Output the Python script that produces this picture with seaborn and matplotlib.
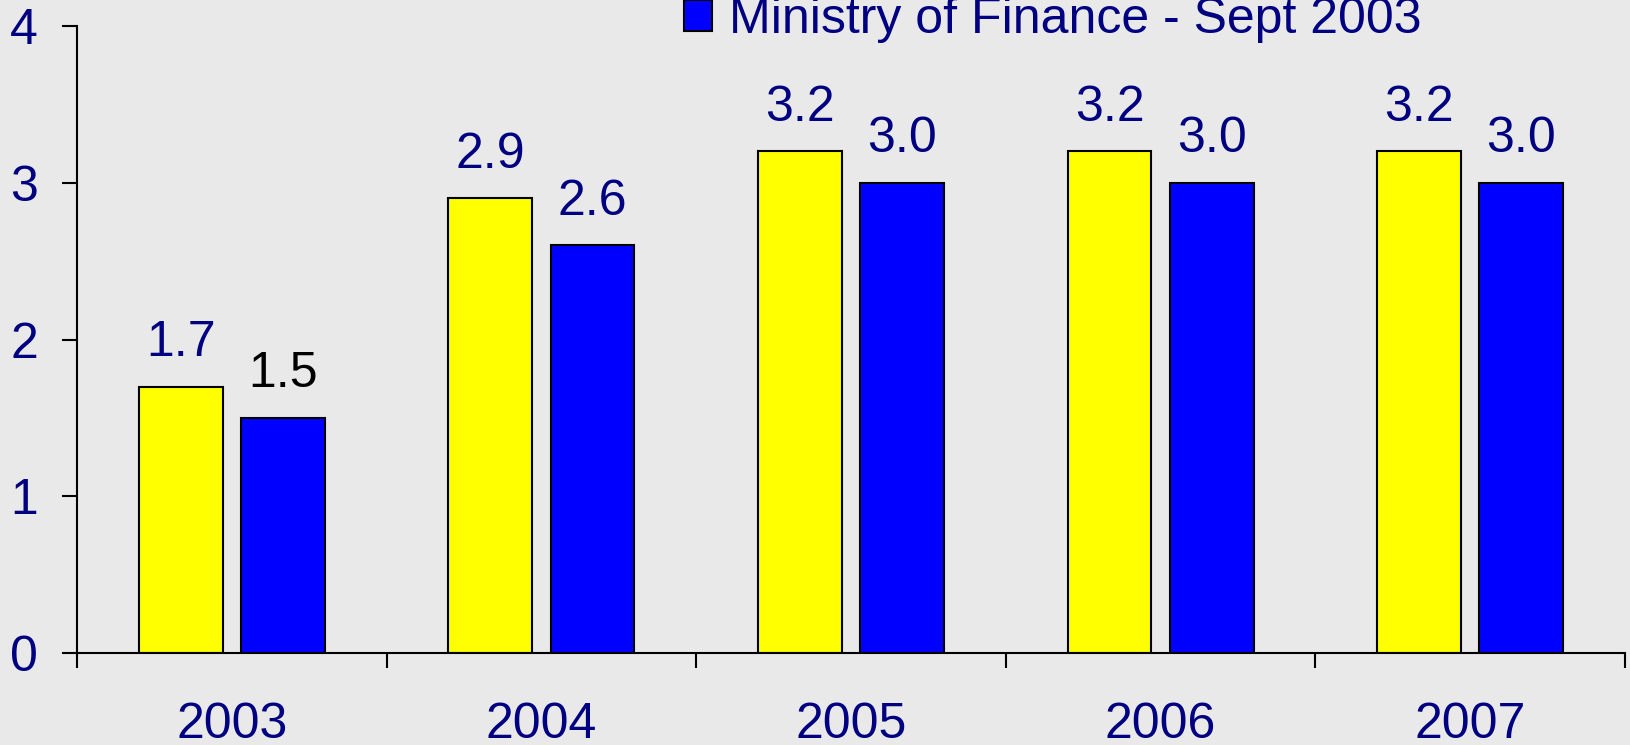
import pandas as pd
import numpy as np
import matplotlib
matplotlib.use("Agg")
import matplotlib.pyplot as plt
from matplotlib.patches import Patch
import seaborn as sns

# data
years = ['2003', '2004', '2005', '2006', '2007']
series_names = ['Earlier forecast', 'Ministry of Finance - Sept 2003']
earlier = [1.7, 2.9, 3.2, 3.2, 3.2]
ministry = [1.5, 2.6, 3.0, 3.0, 3.0]
colors = ['#FFFF00', '#0000FF']
navy = '#000080'

df = pd.DataFrame({
    'year': years * 2,
    'series': [series_names[0]] * len(years) + [series_names[1]] * len(years),
    'value': earlier + ministry,
})

sns.set_style('white')
plt.rcParams['font.family'] = ['Liberation Sans', 'DejaVu Sans']

fig = plt.figure(figsize=(16.31, 7.45), dpi=100)
fig.patch.set_facecolor('#E9E9E9')
ax = fig.add_axes([77 / 1631, 92 / 745, (1625 - 77) / 1631, (652 - 25) / 745])
ax.set_facecolor('#E9E9E9')

sns.barplot(data=df, x='year', y='value', hue='series', order=years,
            hue_order=series_names, palette=colors, width=0.66, gap=0.18,
            edgecolor='black', linewidth=1.5, saturation=1, ax=ax, legend=False)

# value labels above bars
for i, cont in enumerate(ax.containers):
    labels = ax.bar_label(cont, fmt='%.1f', padding=15, fontsize=36, color=navy)
    if i == 1:
        labels[0].set_color('black')

ax.set_ylim(0, 4)
ax.set_xlim(-0.5, 4.5)
ax.set_yticks([0, 1, 2, 3, 4])
ax.set_xticks(np.arange(-0.5, 5, 1))
ax.set_xticklabels([])
ax.set_xticks(range(len(years)), minor=True)
ax.set_xticklabels(years, minor=True)
ax.tick_params(axis='x', which='major', direction='out', length=11, width=1.5, color='black', bottom=True)
ax.tick_params(axis='x', which='minor', length=0, pad=35, labelsize=36, labelcolor=navy, bottom=True)
ax.tick_params(axis='y', direction='out', length=11, width=1.5, color='black', pad=17,
               labelsize=36, labelcolor=navy, left=True)
ax.set_xlabel('')
ax.set_ylabel('')

sns.despine(ax=ax, top=True, right=True)
for s in ['left', 'bottom']:
    ax.spines[s].set_color('black')
    ax.spines[s].set_linewidth(1.5)

# legend (only the second entry shows at the top edge)
handle = Patch(facecolor=colors[1], edgecolor='black', linewidth=1.5)
fig.legend([handle], [series_names[1]], loc='center left',
           bbox_to_anchor=(684 / 1631, 1 - 20 / 745), frameon=False,
           fontsize=36, labelcolor=navy, handlelength=0.56, handleheight=0.6,
           handletextpad=0.34, borderpad=0, borderaxespad=0)

fig.savefig('out.png', dpi=100, facecolor=fig.get_facecolor())
